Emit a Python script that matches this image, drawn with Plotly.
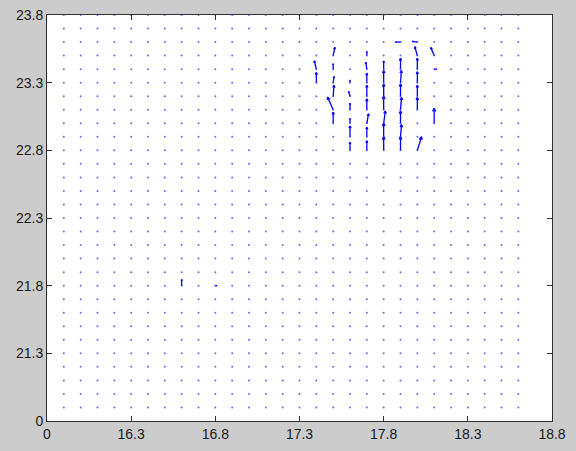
import numpy as np
import plotly.graph_objects as go
import plotly.figure_factory as ff

# Sample grid (0.1 spacing)
grid_x = np.round(np.arange(15.9, 18.65, 0.1), 2)
grid_y = np.round(np.arange(20.9, 23.85, 0.1), 2)

# Non-zero vectors: position and components
arrow_x = [17.4, 17.4,
           17.5, 17.5, 17.5, 17.5, 17.5, 17.5,
           17.6, 17.6, 17.6, 17.6, 17.6, 17.6,
           17.7, 17.7, 17.7, 17.7, 17.7, 17.7, 17.7, 17.7,
           17.8, 17.8, 17.8, 17.8, 17.8, 17.8, 17.8,
           17.9, 17.9, 17.9, 17.9, 17.9, 17.9, 17.9, 17.9,
           18.0, 18.0, 18.0, 18.0, 18.0, 18.0, 18.0,
           18.1, 18.1, 18.1,
           16.6, 16.8]
arrow_y = [23.4, 23.3,
           23.5, 23.4, 23.3, 23.2, 23.1, 23.0,
           23.3, 23.2, 23.1, 23.0, 22.9, 22.8,
           23.5, 23.4, 23.3, 23.2, 23.1, 23.0, 22.9, 22.8,
           23.4, 23.3, 23.2, 23.1, 23.0, 22.9, 22.8,
           23.6, 23.4, 23.3, 23.2, 23.1, 23.0, 22.9, 22.8,
           23.6, 23.5, 23.4, 23.3, 23.2, 23.1, 22.8,
           23.5, 23.4, 23.0,
           21.8, 21.8]
arrow_u = [-0.012, 0.0,
           0.010, 0.0, 0.005, 0.005, -0.033, 0.0,
           0.0, -0.008, 0.0, 0.0, 0.0, 0.0,
           0.0, -0.006, 0.0, 0.0, 0.0, 0.010, 0.0, 0.0,
           0.0, 0.0, 0.0, 0.0, 0.010, 0.0, 0.0,
           -0.030, 0.0, 0.005, 0.0, 0.006, 0.0, 0.006, 0.0,
           -0.030, -0.015, 0.0, 0.0, 0.0, 0.0, 0.025,
           -0.020, 0.015, 0.0,
           0.0, 0.010]
arrow_v = [0.060, 0.075,
           0.060, 0.040, 0.045, 0.080, 0.093, 0.081,
           0.020, 0.035, 0.047, 0.035, 0.080, 0.060,
           0.030, 0.050, 0.070, 0.080, 0.080, 0.070, 0.070, 0.070,
           0.060, 0.090, 0.090, 0.100, 0.090, 0.100, 0.100,
           0.0, 0.080, 0.090, 0.090, 0.090, 0.090, 0.090, 0.100,
           0.005, 0.065, 0.080, 0.080, 0.080, 0.090, 0.100,
           0.060, 0.0, 0.110,
           0.045, 0.0]

# Axis ticks
x_tickvals = [15.8, 16.3, 16.8, 17.3, 17.8, 18.3, 18.8]
x_ticktext = ["0", "16.3", "16.8", "17.3", "17.8", "18.3", "18.8"]
y_tickvals = [20.8, 21.3, 21.8, 22.3, 22.8, 23.3, 23.8]
y_ticktext = ["0", "21.3", "21.8", "22.3", "22.8", "23.3", "23.8"]

fig = ff.create_quiver(arrow_x, arrow_y, arrow_u, arrow_v,
                       scale=1, arrow_scale=0.22, angle=np.pi / 8,
                       line=dict(color="#0000ff", width=1.3),
                       showlegend=False, hoverinfo="skip")

gx, gy = np.meshgrid(grid_x, grid_y)
fig.add_trace(go.Scatter(
    x=gx.ravel(), y=gy.ravel(), mode="markers",
    marker=dict(size=2, color="rgba(40,40,255,0.7)", line=dict(width=0)),
    showlegend=False, hoverinfo="skip"))

axis_common = dict(
    showgrid=False, zeroline=False, showline=True, linecolor="#303030",
    linewidth=1, mirror="ticks", ticks="inside", ticklen=5,
    tickcolor="#303030", automargin=False,
    tickfont=dict(family="Liberation Sans", size=14, color="#1a1a1a"),
)

fig.update_layout(
    width=576, height=451,
    margin=dict(l=47, r=24, t=15, b=30),
    paper_bgcolor="#cccccc",
    plot_bgcolor="#ffffff",
    showlegend=False,
    xaxis=dict(range=[15.8, 18.8], tickvals=x_tickvals, ticktext=x_ticktext, **axis_common),
    yaxis=dict(range=[20.8, 23.8], tickvals=y_tickvals, ticktext=y_ticktext, **axis_common),
)

fig.write_html("out.html")
